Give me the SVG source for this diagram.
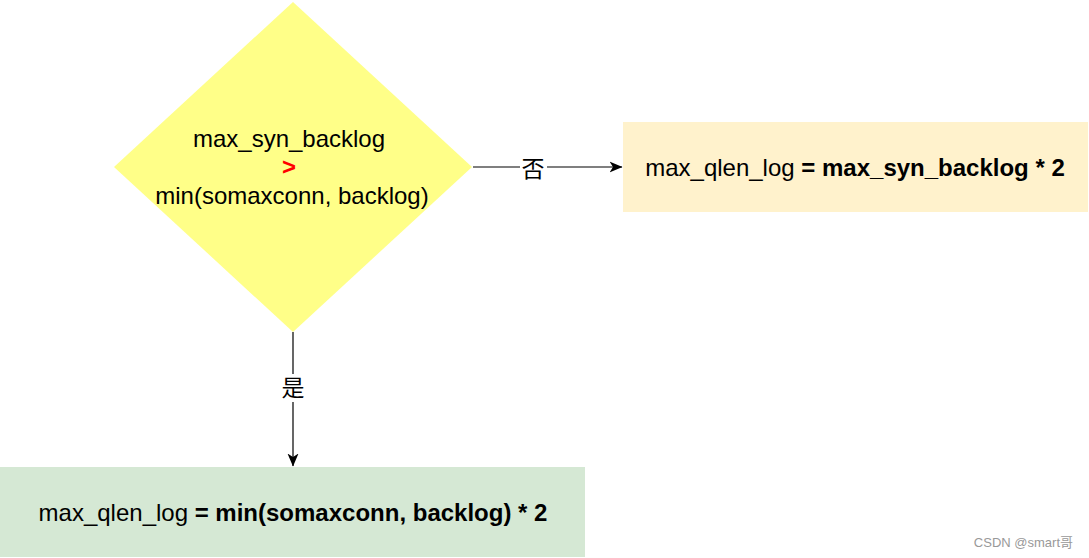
<svg xmlns="http://www.w3.org/2000/svg" width="1089" height="558" viewBox="0 0 1089 558">
<style>
.t{font-family:"Liberation Sans",Arial,"Noto Sans CJK SC",sans-serif;font-size:24px;fill:#000}
.b{font-weight:bold}
.lbl{font-family:"Liberation Sans","Noto Sans CJK SC",sans-serif;font-size:23px;fill:#000}
.edge{stroke:#000;stroke-width:1.2;fill:none}
</style>
<defs>
<marker id="arr" viewBox="0 0 13 12" refX="12.5" refY="6" markerWidth="13" markerHeight="12" markerUnits="userSpaceOnUse" orient="auto">
<path d="M0,0.5 L13,6 L0,11.5 L3.5,6 Z" fill="#000"/>
</marker>
</defs>
<rect width="1089" height="558" fill="#fff"/>
<g id="decision">
<polygon points="293,2 472,167 293,332 114,167" fill="#ffff88"/>
<text class="t" x="289" y="147" text-anchor="middle">max_syn_backlog</text>
<text class="t b" x="289" y="175" text-anchor="middle" style="fill:#ff0000">&gt;</text>
<text class="t" x="292" y="204" text-anchor="middle">min(somaxconn, backlog)</text>
</g>
<g id="no-box">
<rect x="623" y="122" width="465" height="90" fill="#fff2cc"/>
<text class="t" x="855" y="176" text-anchor="middle">max_qlen_log <tspan class="b">= max_syn_backlog * 2</tspan></text>
</g>
<g id="yes-box">
<rect x="0" y="467" width="585" height="90" fill="#d5e8d4"/>
<text class="t" x="293" y="521" text-anchor="middle">max_qlen_log <tspan class="b">= min(somaxconn, backlog) * 2</tspan></text>
</g>
<g id="connectors">
<line class="edge" x1="473" y1="167" x2="622" y2="167" marker-end="url(#arr)"/>
<rect x="520" y="154" width="27" height="28" fill="#fff"/>
<text class="lbl" x="533" y="177" text-anchor="middle">否</text>
<line class="edge" x1="293" y1="332" x2="293" y2="466" marker-end="url(#arr)"/>
<rect x="280" y="374" width="27" height="28" fill="#fff"/>
<text class="lbl" x="293" y="396" text-anchor="middle">是</text>
</g>
<text x="1073" y="547" text-anchor="end" style="font-family:'Liberation Sans','Noto Sans CJK SC',sans-serif;font-size:13px;fill:#999">CSDN @smart哥</text>
</svg>
